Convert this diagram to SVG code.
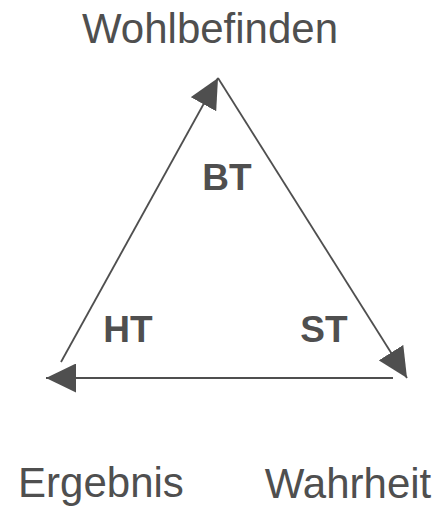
<svg xmlns="http://www.w3.org/2000/svg" width="442" height="509" viewBox="0 0 442 509">
  <style>
    .label { font-family: "Liberation Sans", Arial, sans-serif; font-size: 42px; fill: #4f4f4f; }
    .tag { font-family: "Liberation Sans", Arial, sans-serif; font-size: 37px; font-weight: bold; fill: #4f4f4f; }
    .edge { stroke: #4f4f4f; stroke-width: 1.8; fill: none; marker-end: url(#head); }
  </style>
  <defs>
    <marker id="head" markerUnits="userSpaceOnUse" markerWidth="30" markerHeight="29" refX="30" refY="14.5" orient="auto">
      <path d="M0,0 L30,14.5 L0,29 Z" fill="#4f4f4f"/>
    </marker>
  </defs>
  <rect width="442" height="509" fill="#ffffff"/>

  <g id="connectors">
    <line class="edge" x1="61" y1="362" x2="218" y2="78"/>
    <line class="edge" x1="218" y1="78" x2="407" y2="378"/>
    <line class="edge" x1="393" y1="378" x2="46" y2="378"/>
  </g>

  <g id="node-wohlbefinden">
    <text class="label" x="210" y="43" text-anchor="middle">Wohlbefinden</text>
  </g>
  <g id="node-ergebnis">
    <text class="label" x="101" y="497" text-anchor="middle">Ergebnis</text>
  </g>
  <g id="node-wahrheit">
    <text class="label" x="348" y="498" text-anchor="middle">Wahrheit</text>
  </g>
  <g id="tag-bt">
    <text class="tag" x="227" y="190" text-anchor="middle">BT</text>
  </g>
  <g id="tag-ht">
    <text class="tag" x="128" y="342" text-anchor="middle">HT</text>
  </g>
  <g id="tag-st">
    <text class="tag" x="324" y="342" text-anchor="middle">ST</text>
  </g>
</svg>
